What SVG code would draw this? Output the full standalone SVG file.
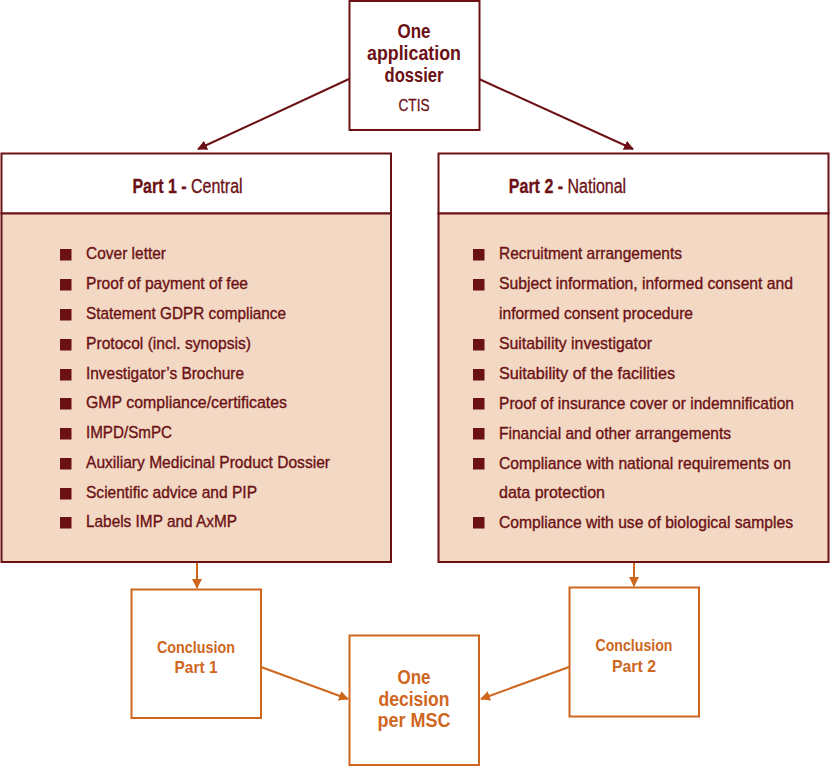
<svg xmlns="http://www.w3.org/2000/svg" width="830" height="766" viewBox="0 0 830 766">
<style>
text{font-family:"Liberation Sans",Arial,sans-serif;}
.m{fill:#6b1014;}
.o{fill:#cf661e;}
.b{font-weight:bold;}
.bl{font-size:17px;fill:#6b1014;stroke:#6b1014;stroke-width:0.35;}
.hr{stroke:#6b1014;stroke-width:0.3;}
.boxm{fill:#fff;stroke:#6b1014;stroke-width:2;}
.boxo{fill:#fff;stroke:#cf661e;stroke-width:2;}
.body{fill:#f3d8c3;stroke:#6b1014;stroke-width:2;}
.sq{fill:#6b1014;}
.cm{stroke:#6b1014;stroke-width:2;fill:none;}
.co{stroke:#cf661e;stroke-width:2;fill:none;}
</style>
<defs>
<marker id="am" viewBox="0 0 10 10" refX="9" refY="5" markerWidth="5" markerHeight="5" orient="auto" markerUnits="strokeWidth">
<path d="M0,0 L10,5 L0,10 Z" fill="#6b1014"/>
</marker>
<marker id="ao" viewBox="0 0 10 10" refX="9" refY="5" markerWidth="5" markerHeight="5" orient="auto" markerUnits="strokeWidth">
<path d="M0,0 L10,5 L0,10 Z" fill="#cf661e"/>
</marker>
</defs>

<g id="connectors">
<line class="cm" x1="349" y1="79" x2="198" y2="149" marker-end="url(#am)"/>
<line class="cm" x1="479" y1="79" x2="633" y2="149" marker-end="url(#am)"/>
<line class="co" x1="197" y1="563" x2="197" y2="588" marker-end="url(#ao)"/>
<line class="co" x1="634" y1="563" x2="634" y2="586" marker-end="url(#ao)"/>
<line class="co" x1="261" y1="667" x2="348" y2="699" marker-end="url(#ao)"/>
<line class="co" x1="569" y1="667" x2="481" y2="699" marker-end="url(#ao)"/>
</g>

<g id="dossier">
<rect class="boxm" x="349.5" y="1" width="130" height="129"/>
<text class="m b" x="414" y="38" font-size="19.5" text-anchor="middle" textLength="33" lengthAdjust="spacingAndGlyphs">One</text>
<text class="m b" x="414" y="60" font-size="19.5" text-anchor="middle" textLength="94" lengthAdjust="spacingAndGlyphs">application</text>
<text class="m b" x="414" y="82" font-size="19.5" text-anchor="middle" textLength="59" lengthAdjust="spacingAndGlyphs">dossier</text>
<text class="m hr" x="414" y="111" font-size="16.5" text-anchor="middle" textLength="31" lengthAdjust="spacingAndGlyphs">CTIS</text>
</g>

<g id="part1">
<rect class="boxm" x="1.5" y="153.5" width="389.5" height="60"/>
<rect class="body" x="1.5" y="213.5" width="389.5" height="348.5"/>
<text class="m hr" transform="translate(187.5,193) scale(0.82,1)" font-size="19.5" text-anchor="middle"><tspan class="b">Part 1 - </tspan>Central</text>
<g class="sq">
<rect x="60" y="249" width="11.5" height="11.5"/>
<rect x="60" y="279" width="11.5" height="11.5"/>
<rect x="60" y="309" width="11.5" height="11.5"/>
<rect x="60" y="339" width="11.5" height="11.5"/>
<rect x="60" y="369" width="11.5" height="11.5"/>
<rect x="60" y="398" width="11.5" height="11.5"/>
<rect x="60" y="428" width="11.5" height="11.5"/>
<rect x="60" y="458" width="11.5" height="11.5"/>
<rect x="60" y="488" width="11.5" height="11.5"/>
<rect x="60" y="517" width="11.5" height="11.5"/>
</g>
<text class="bl" x="86" y="259" textLength="80" lengthAdjust="spacingAndGlyphs">Cover letter</text>
<text class="bl" x="86" y="289" textLength="162" lengthAdjust="spacingAndGlyphs">Proof of payment of fee</text>
<text class="bl" x="86" y="319" textLength="200" lengthAdjust="spacingAndGlyphs">Statement GDPR compliance</text>
<text class="bl" x="86" y="349" textLength="165" lengthAdjust="spacingAndGlyphs">Protocol (incl. synopsis)</text>
<text class="bl" x="86" y="379" textLength="158" lengthAdjust="spacingAndGlyphs">Investigator’s Brochure</text>
<text class="bl" x="86" y="408" textLength="201" lengthAdjust="spacingAndGlyphs">GMP compliance/certificates</text>
<text class="bl" x="86" y="438" textLength="86" lengthAdjust="spacingAndGlyphs">IMPD/SmPC</text>
<text class="bl" x="86" y="468" textLength="244" lengthAdjust="spacingAndGlyphs">Auxiliary Medicinal Product Dossier</text>
<text class="bl" x="86" y="498" textLength="171" lengthAdjust="spacingAndGlyphs">Scientific advice and PIP</text>
<text class="bl" x="86" y="527" textLength="151" lengthAdjust="spacingAndGlyphs">Labels IMP and AxMP</text>
</g>

<g id="part2">
<rect class="boxm" x="438.5" y="153.5" width="390" height="60"/>
<rect class="body" x="438.5" y="213.5" width="390" height="348.5"/>
<text class="m hr" transform="translate(567.5,193) scale(0.82,1)" font-size="19.5" text-anchor="middle"><tspan class="b">Part 2 - </tspan>National</text>
<g class="sq">
<rect x="473" y="249" width="11.5" height="11.5"/>
<rect x="473" y="279" width="11.5" height="11.5"/>
<rect x="473" y="339" width="11.5" height="11.5"/>
<rect x="473" y="369" width="11.5" height="11.5"/>
<rect x="473" y="398" width="11.5" height="11.5"/>
<rect x="473" y="428" width="11.5" height="11.5"/>
<rect x="473" y="458" width="11.5" height="11.5"/>
<rect x="473" y="517" width="11.5" height="11.5"/>
</g>
<text class="bl" x="499" y="259" textLength="183" lengthAdjust="spacingAndGlyphs">Recruitment arrangements</text>
<text class="bl" x="499" y="289" textLength="294" lengthAdjust="spacingAndGlyphs">Subject information, informed consent and</text>
<text class="bl" x="499" y="319" textLength="194" lengthAdjust="spacingAndGlyphs">informed consent procedure</text>
<text class="bl" x="499" y="349" textLength="153" lengthAdjust="spacingAndGlyphs">Suitability investigator</text>
<text class="bl" x="499" y="379" textLength="176" lengthAdjust="spacingAndGlyphs">Suitability of the facilities</text>
<text class="bl" x="499" y="409" textLength="295" lengthAdjust="spacingAndGlyphs">Proof of insurance cover or indemnification</text>
<text class="bl" x="499" y="439" textLength="232" lengthAdjust="spacingAndGlyphs">Financial and other arrangements</text>
<text class="bl" x="499" y="469" textLength="292" lengthAdjust="spacingAndGlyphs">Compliance with national requirements on</text>
<text class="bl" x="499" y="498" textLength="106" lengthAdjust="spacingAndGlyphs">data protection</text>
<text class="bl" x="499" y="528" textLength="294" lengthAdjust="spacingAndGlyphs">Compliance with use of biological samples</text>
</g>

<g id="conclusion1">
<rect class="boxo" x="131.5" y="589.5" width="129.5" height="128.5"/>
<text class="o b" x="196" y="653" font-size="17" text-anchor="middle" textLength="78" lengthAdjust="spacingAndGlyphs">Conclusion</text>
<text class="o b" x="196" y="673" font-size="17" text-anchor="middle" textLength="43" lengthAdjust="spacingAndGlyphs">Part 1</text>
</g>

<g id="conclusion2">
<rect class="boxo" x="569.5" y="587.5" width="129.5" height="129"/>
<text class="o b" x="634" y="651" font-size="17" text-anchor="middle" textLength="77" lengthAdjust="spacingAndGlyphs">Conclusion</text>
<text class="o b" x="634" y="672" font-size="17" text-anchor="middle" textLength="44" lengthAdjust="spacingAndGlyphs">Part 2</text>
</g>

<g id="decision">
<rect class="boxo" x="349.5" y="635.5" width="129.5" height="129.5"/>
<text class="o b" x="414" y="684" font-size="19.5" text-anchor="middle" textLength="33" lengthAdjust="spacingAndGlyphs">One</text>
<text class="o b" x="414" y="706" font-size="19.5" text-anchor="middle" textLength="71" lengthAdjust="spacingAndGlyphs">decision</text>
<text class="o b" x="414" y="727" font-size="19.5" text-anchor="middle" textLength="73" lengthAdjust="spacingAndGlyphs">per MSC</text>
</g>
</svg>
